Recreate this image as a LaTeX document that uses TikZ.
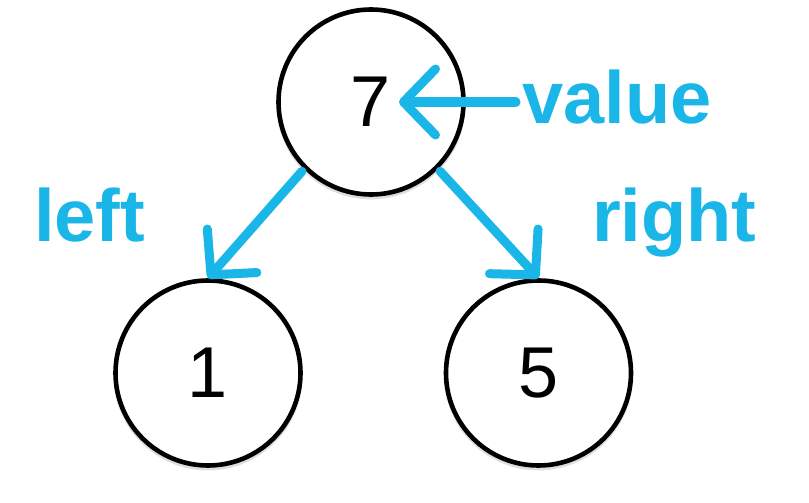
\documentclass[tikz,border=0pt]{standalone}
\usepackage{fontspec}
\setmainfont{Liberation Sans}
\usetikzlibrary{arrows.meta,shadows}
\definecolor{ptrcyan}{RGB}{26,182,232}
\begin{document}
\begin{tikzpicture}[x=1pt,y=-1pt,
  treenode/.style={circle,draw=black,line width=4.6pt,fill=white,
    minimum size=185pt,inner sep=0pt,
    font=\fontsize{72}{72}\selectfont,
    drop shadow={shadow xshift=0pt,shadow yshift=-3pt,shadow scale=1.02,opacity=0.13,fill=black}},
  ptr/.style={draw=ptrcyan,line width=9pt,line cap=round,line join=round,
    -{Straight Barb[length=32pt,width=66pt,round]}},
  lbl/.style={text=ptrcyan,font=\fontsize{74}{74}\selectfont\bfseries,
    inner sep=0pt,anchor=base west}]
\useasboundingbox (0,0) rectangle (809,503);
\node[treenode] (top) at (371,102) {7};
\node[treenode] (l) at (208,373) {1};
\node[treenode] (r) at (538.5,373) {5};
\node[lbl] (value) at (522,123) {value};
\node[lbl] (leftlbl) at (34,241) {left};
\node[lbl] (rightlbl) at (592,241) {right};
\coordinate (vtail) at ([xshift=-6pt]value.west |- top.center);
\draw[ptr,shorten >=28pt] (vtail) -- (top.center);
\draw[ptr,shorten <=3pt] (top.-135) -- (l.north);
\draw[ptr,shorten <=3pt] (top.-45) -- (r.north);
\end{tikzpicture}
\end{document}
